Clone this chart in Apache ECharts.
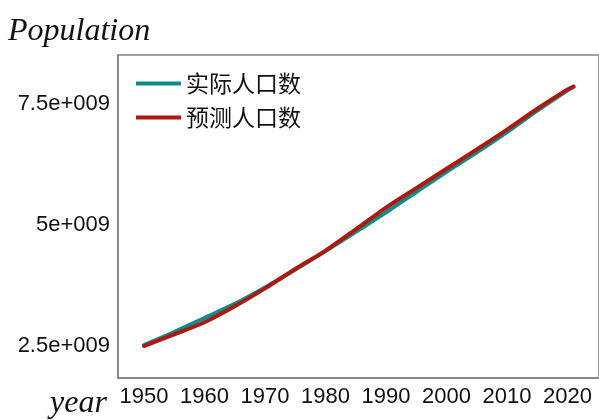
<!DOCTYPE html>
<html>
<head>
<meta charset="utf-8">
<script src="https://cdn.jsdelivr.net/npm/echarts@6/dist/echarts.min.js"></script>
<style>
  html, body { margin: 0; padding: 0; background: #fff; }
  #main { width: 599px; height: 420px; }
</style>
</head>
<body>
<div id="main"></div>
<script>
var years = [1950, 1955, 1960, 1965, 1970, 1975, 1980, 1985, 1990, 1995, 2000, 2005, 2010, 2015, 2020, 2021];
// 实际人口数 / 预测人口数 (in 1e9)
var actual    = [2.52, 2.79, 3.08, 3.37, 3.71, 4.08, 4.46, 4.86, 5.26, 5.68, 6.10, 6.50, 6.92, 7.36, 7.78, 7.85];
var predicted = [2.50, 2.74, 2.99, 3.32, 3.69, 4.09, 4.47, 4.91, 5.36, 5.76, 6.16, 6.56, 6.97, 7.40, 7.80, 7.86];
var xTicks = [1950, 1960, 1970, 1980, 1990, 2000, 2010, 2020];
var yTicks = [2.5e9, 5e9, 7.5e9];
var yTickLabels = ['2.5e+009', '5e+009', '7.5e+009'];
var seriesNames = ['实际人口数', '预测人口数'];

var myChart = echarts.init(document.getElementById('main'));

function toPairs(vals) {
    var out = [];
    for (var i = 0; i < years.length; i++) {
        out.push([years[i], vals[i] * 1e9]);
    }
    return out;
}

var labelFont = 'Liberation Sans, Arial, sans-serif';

var option = {
    animation: false,
    backgroundColor: '#fff',
    grid: {
        left: 118, right: 0, top: 55, bottom: 42,
        show: true, borderColor: '#808080', borderWidth: 1.5,
        containLabel: false
    },
    legend: {
        orient: 'vertical',
        left: 136, top: 72,
        padding: 0,
        itemWidth: 45, itemHeight: 4, itemGap: 11,
        icon: 'rect',
        textStyle: { fontFamily: 'Noto Sans CJK SC', fontSize: 23, color: '#111' },
        data: seriesNames
    },
    xAxis: {
        type: 'value',
        min: 1945.7, max: 2025.2,
        splitLine: { show: false },
        axisLine: { lineStyle: { color: '#808080', width: 1.5 } },
        axisTick: { show: false },
        axisLabel: {
            customValues: xTicks,
            margin: 8,
            fontFamily: labelFont, fontSize: 22, color: '#111',
            formatter: function (v) { return String(v); }
        }
    },
    yAxis: {
        type: 'value',
        min: 1.84e9, max: 8.51e9,
        splitLine: { show: false },
        axisLine: { show: true, lineStyle: { color: '#808080', width: 1.5 } },
        axisTick: { show: false },
        axisLabel: {
            customValues: yTicks,
            margin: 8,
            fontFamily: labelFont, fontSize: 22, color: '#111',
            formatter: function (v) {
                var i = yTicks.indexOf(v);
                return i >= 0 ? yTickLabels[i] : '';
            }
        }
    },
    graphic: [
        {
            type: 'text', left: 8, top: 16,
            style: { text: 'Population', font: 'italic 32px "Liberation Serif", "DejaVu Serif", serif', fill: '#111' }
        },
        {
            type: 'text', left: 50, top: 388,
            style: { text: 'year', font: 'italic 32px "Liberation Serif", "DejaVu Serif", serif', fill: '#111' }
        }
    ],
    series: [
        {
            name: seriesNames[0], type: 'line', data: toPairs(actual),
            showSymbol: false, symbol: 'none', smooth: 0.3,
            color: '#108a8f',
            lineStyle: { width: 4, color: '#108a8f', cap: 'round' }
        },
        {
            name: seriesNames[1], type: 'line', data: toPairs(predicted),
            showSymbol: false, symbol: 'none', smooth: 0.3,
            color: '#ab1a0c',
            lineStyle: { width: 4, color: '#ab1a0c', cap: 'round' }
        }
    ]
};

myChart.setOption(option);
</script>
</body>
</html>
